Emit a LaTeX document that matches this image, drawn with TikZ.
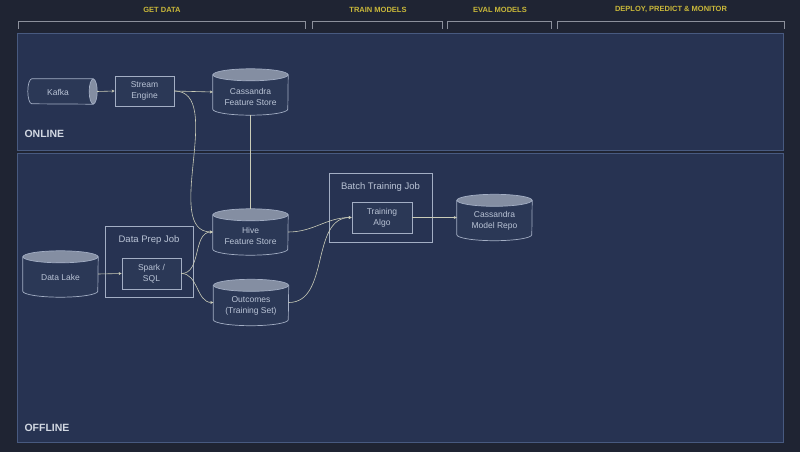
\documentclass[tikz,border=0pt]{standalone}
\usepackage{fontspec}
\setmainfont{Liberation Sans}
\usetikzlibrary{arrows.meta}
\definecolor{pagebg}{HTML}{1F2433}
\definecolor{panelbg}{HTML}{273352}
\definecolor{panelline}{HTML}{485A80}
\definecolor{headtxt}{HTML}{C9B83A}
\definecolor{brk}{HTML}{8C909C}
\definecolor{nodeline}{HTML}{A3AEC4}
\definecolor{nodetxt}{HTML}{BAC4D6}
\definecolor{capfill}{HTML}{848EA2}
\definecolor{bodyfill}{HTML}{2B3856}
\definecolor{wire}{HTML}{CACCB8}
\definecolor{zonetxt}{HTML}{D2D8E2}
\tikzset{
  txt/.style={font=\fontsize{8.5}{11}\selectfont, text=nodetxt, align=center},
  procbox/.style={txt, draw=nodeline, line width=0.7pt, fill=bodyfill, inner sep=0pt},
  cylbox/.style={txt, minimum width=75pt, minimum height=46pt, inner sep=0pt},
  grpbox/.style={draw=nodeline, line width=0.7pt, inner sep=0pt},
  grplabel/.style={txt, font=\fontsize{9.5}{11}\selectfont},
  head/.style={font=\fontsize{7.5}{8}\selectfont\bfseries, text=headtxt},
  zone/.style={font=\fontsize{10.5}{11}\selectfont\bfseries, text=zonetxt, anchor=west},
  wireline/.style={draw=wire, line width=0.6pt},
  tip/.style={-{Stealth[length=3pt,width=3pt]}},
  bracket/.style={draw=brk, line width=0.8pt}
}
\newcommand\drawcyl[1]{%
  \path[fill=bodyfill, draw=nodeline, line width=0.7pt]
    ([yshift=-6pt]#1.north west) -- ([yshift=6pt]#1.south west)
    arc[start angle=180, end angle=360, x radius=37.5pt, y radius=6pt]
    -- ([yshift=-6pt]#1.north east) -- cycle;
  \path[fill=capfill, draw=nodeline, line width=0.7pt]
    ([yshift=-6pt]#1.north) ellipse[x radius=37.5pt, y radius=6pt];
}
\begin{document}
\begin{tikzpicture}[x=1pt,y=-1pt]
\useasboundingbox (0,0) rectangle (800,452);
\fill[pagebg] (0,0) rectangle (800,452);
% headings
\node[head] (hget) at (162,9.5) {GET DATA};
\node[head] (htrain) at (378,9.5) {TRAIN MODELS};
\node[head] (heval) at (500,9.5) {EVAL MODELS};
\node[head] (hdeploy) at (671,9.5) {DEPLOY, PREDICT \& MONITOR};
\draw[bracket] (18,29) -- (18,21) -- (305,21) -- (305,29);
\draw[bracket] (312,29) -- (312,21) -- (442,21) -- (442,29);
\draw[bracket] (447,29) -- (447,21) -- (551,21) -- (551,29);
\draw[bracket] (557,29) -- (557,21) -- (784,21) -- (784,29);
% panels
\path[fill=panelbg, draw=panelline, line width=1pt] (17,34) rectangle (783,150);
\path[fill=panelbg, draw=panelline, line width=1pt] (17,153) rectangle (783,442);
\node[zone] (online) at (21,134) {ONLINE};
\node[zone] (offline) at (21,428) {OFFLINE};
% group boxes
\node[grpbox, minimum width=88pt, minimum height=71pt] (prep) at (149,261.5) {};
\node[grplabel] (preplbl) at (149,240) {Data Prep Job};
\node[grpbox, minimum width=103pt, minimum height=69pt] (batch) at (380.5,207.5) {};
\node[grplabel] (batchlbl) at (380.5,187) {Batch Training Job};
% Kafka horizontal cylinder
\node[txt, minimum width=69pt, minimum height=25pt, inner sep=0pt] (kafka) at (62.5,91.5) {};
\path[fill=bodyfill, draw=nodeline, line width=0.7pt]
  ([xshift=-4pt]kafka.north east) -- ([xshift=4pt]kafka.north west)
  arc[start angle=90, end angle=270, x radius=4pt, y radius=12.5pt]
  -- ([xshift=-4pt]kafka.south east) -- cycle;
\path[fill=capfill, draw=nodeline, line width=0.7pt]
  ([xshift=-4pt]kafka.east) ellipse[x radius=4pt, y radius=12.5pt];
\node[txt] (kafkatxt) at (58,92.5) {Kafka};
% process boxes
\node[procbox, minimum width=59pt, minimum height=30pt] (stream) at (144.5,91) {Stream\\Engine};
\node[procbox, minimum width=59pt, minimum height=31pt] (spark) at (151.5,273.5) {Spark /\\SQL};
\node[procbox, minimum width=60pt, minimum height=31pt] (algo) at (382,217.5) {Training\\Algo};
% cylinders
\node[cylbox] (cfs) at (250.5,92) {};
\node[cylbox] (hive) at (250.5,232) {};
\node[cylbox] (lake) at (60.5,274) {};
\node[cylbox] (outc) at (251,302.5) {};
\node[cylbox] (repo) at (494.5,217.5) {};
\drawcyl{cfs}\drawcyl{hive}\drawcyl{lake}\drawcyl{outc}\drawcyl{repo}
\node[txt] (cfstxt) at (250.5,96.5) {Cassandra\\Feature Store};
\node[txt] (hivetxt) at (250.5,236) {Hive\\Feature Store};
\node[txt] (laketxt) at (60.5,277) {Data Lake};
\node[txt] (outctxt) at (251,306) {Outcomes\\(Training Set)};
\node[txt] (repotxt) at (494.5,220.5) {Cassandra\\Model Repo};
% connectors
\draw[wireline, tip] (kafka.east) -- (stream.west);
\draw[wireline, tip] (stream.east) -- (cfs.west);
\draw[wireline] (cfs.south) -- (hive.north);
\draw[wireline, tip] (stream.east) to[out=0, in=180, looseness=0.9] (hive.west);
\draw[wireline, tip] (lake.east) -- (spark.west);
\draw[wireline, tip] (spark.east) to[out=0, in=180] (hive.west);
\draw[wireline, tip] (spark.east) to[out=0, in=180] (outc.west);
\draw[wireline, tip] (hive.east) to[out=0, in=180] (algo.west);
\draw[wireline, tip] (outc.east) to[out=0, in=180] (algo.west);
\draw[wireline, tip] (algo.east) -- (repo.west);
\end{tikzpicture}
\end{document}
